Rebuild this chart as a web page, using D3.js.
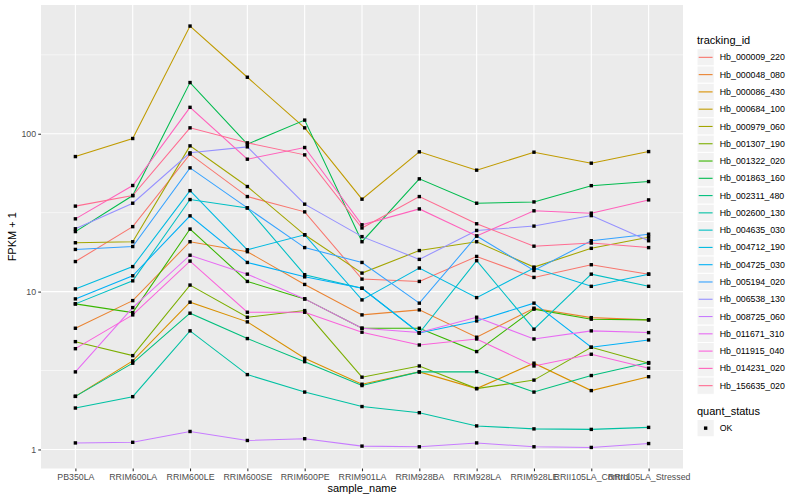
<!DOCTYPE html>
<meta charset="utf-8">
<head>
<script src="https://d3js.org/d3.v7.min.js"></script>
<style>
body { margin: 0; background: #fff; }
text { font-family: "Liberation Sans", Arial, Helvetica, sans-serif; }
</style>
</head>
<body>
<svg id="chart" width="800" height="500"></svg>
<script>
// categories
var samples = ["PB350LA", "RRIM600LA", "RRIM600LE", "RRIM600SE", "RRIM600PE", "RRIM901LA",
               "RRIM928BA", "RRIM928LA", "RRIM928LE", "RRII105LA_Control", "RRII105LA_Stressed"];

var trackingIds = ["Hb_000009_220", "Hb_000048_080", "Hb_000086_430", "Hb_000684_100", "Hb_000979_060",
                   "Hb_001307_190", "Hb_001322_020", "Hb_001863_160", "Hb_002311_480", "Hb_002600_130",
                   "Hb_004635_030", "Hb_004712_190", "Hb_004725_030", "Hb_005194_020", "Hb_006538_130",
                   "Hb_008725_060", "Hb_011671_310", "Hb_011915_040", "Hb_014231_020", "Hb_156635_020"];

// FPKM + 1, one array per gene, in sample order
var hb_000009_220 = [15.5, 25.8, 74.3, 40.0, 32.0, 12.0, 11.6, 16.7, 12.3, 14.8, 12.9];
var hb_000048_080 = [5.86, 8.77, 20.7, 17.9, 11.1, 7.12, 7.66, 5.14, 7.85, 6.84, 6.62];
var hb_000086_430 = [2.17, 3.64, 8.57, 6.43, 3.78, 2.59, 3.10, 2.43, 3.52, 2.36, 2.89];
var hb_000684_100 = [71.7, 93.3, 481, 228, 109, 38.5, 76.8, 58.8, 76.4, 65.1, 77.1];
var hb_000979_060 = [20.4, 20.7, 83.8, 46.3, 22.9, 13.1, 18.2, 20.7, 14.3, 18.8, 22.1];
var hb_001307_190 = [4.82, 3.93, 11.0, 6.88, 7.58, 2.87, 3.38, 2.43, 2.75, 4.44, 3.52];
var hb_001322_020 = [8.36, 7.36, 24.9, 11.6, 8.99, 5.86, 5.86, 4.17, 7.74, 6.69, 6.62];
var hb_001863_160 = [24.0, 40.6, 211, 85.9, 122, 20.7, 51.8, 36.3, 37.0, 46.9, 49.8];
var hb_002311_480 = [2.17, 3.52, 7.30, 5.04, 3.60, 2.54, 3.10, 3.11, 2.31, 2.94, 3.55];
var hb_002600_130 = [1.83, 2.16, 5.64, 2.98, 2.31, 1.87, 1.71, 1.41, 1.35, 1.34, 1.38];
var hb_004635_030 = [8.36, 11.7, 38.3, 33.9, 12.8, 10.5, 5.47, 15.7, 5.78, 12.9, 10.8];
var hb_004712_190 = [10.4, 14.4, 43.6, 18.4, 22.9, 8.86, 14.1, 9.16, 14.1, 10.8, 12.9];
var hb_004725_030 = [8.99, 12.6, 30.2, 15.3, 12.4, 10.5, 5.47, 6.52, 8.45, 4.44, 4.94];
var hb_005194_020 = [18.5, 19.3, 60.8, 33.9, 19.0, 15.3, 8.45, 22.5, 13.6, 21.0, 23.1];
var hb_006538_130 = [25.0, 36.3, 75.7, 82.6, 35.8, 22.3, 16.0, 24.4, 26.0, 30.3, 21.0];
var hb_008725_060 = [1.10, 1.11, 1.30, 1.14, 1.17, 1.05, 1.04, 1.10, 1.04, 1.03, 1.09];
var hb_011671_310 = [3.10, 7.92, 17.0, 12.9, 8.99, 5.86, 5.50, 6.88, 5.01, 5.64, 5.50];
var hb_011915_040 = [4.35, 7.12, 15.6, 7.40, 7.40, 5.53, 4.59, 5.01, 3.38, 4.01, 3.27];
var hb_014231_020 = [28.9, 47.0, 147, 69.0, 81.8, 26.5, 33.4, 22.5, 32.5, 31.4, 38.1];
var hb_156635_020 = [34.8, 40.6, 109, 87.6, 73.5, 25.3, 40.0, 26.9, 19.4, 20.3, 19.0];

var series = [hb_000009_220, hb_000048_080, hb_000086_430, hb_000684_100, hb_000979_060,
              hb_001307_190, hb_001322_020, hb_001863_160, hb_002311_480, hb_002600_130,
              hb_004635_030, hb_004712_190, hb_004725_030, hb_005194_020, hb_006538_130,
              hb_008725_060, hb_011671_310, hb_011915_040, hb_014231_020, hb_156635_020];

// ggplot default hue palette for 20 groups
var colors = ["#F8766D", "#EA8331", "#D89000", "#C09B00", "#A3A500", "#7CAE00", "#39B600", "#00BB4E",
              "#00BF7D", "#00C1A3", "#00BFC4", "#00BAE0", "#00B0F6", "#35A2FF", "#9590FF", "#C77CFF",
              "#E76BF3", "#FA62DB", "#FF62BC", "#FF6C91"];

var yBreaks = [1, 10, 100];
var yMinor = [Math.sqrt(10), Math.sqrt(1000), Math.sqrt(100000)];

var panel = {left: 41, right: 683, top: 5, bottom: 468.5};
var svg = d3.select("#chart");

var x = d3.scalePoint().domain(samples).range([panel.left, panel.right]).padding(0.6);

var all = d3.merge(series);
var lo = Math.log10(d3.min(all)), hi = Math.log10(d3.max(all)), pad = (hi - lo) * 0.05;
var y = d3.scaleLog()
    .domain([Math.pow(10, lo - pad), Math.pow(10, hi + pad)])
    .range([panel.bottom, panel.top]);

// panel + grid
svg.append("rect")
    .attr("x", panel.left).attr("y", panel.top)
    .attr("width", panel.right - panel.left).attr("height", panel.bottom - panel.top)
    .attr("fill", "#EBEBEB");

svg.append("g").selectAll("line").data(yMinor).join("line")
    .attr("x1", panel.left).attr("x2", panel.right)
    .attr("y1", d => y(d)).attr("y2", d => y(d))
    .attr("stroke", "#fff").attr("stroke-width", 0.55);

svg.append("g").selectAll("line").data(yBreaks).join("line")
    .attr("x1", panel.left).attr("x2", panel.right)
    .attr("y1", d => y(d)).attr("y2", d => y(d))
    .attr("stroke", "#fff").attr("stroke-width", 1.1);

svg.append("g").selectAll("line").data(samples).join("line")
    .attr("x1", d => x(d)).attr("x2", d => x(d))
    .attr("y1", panel.top).attr("y2", panel.bottom)
    .attr("stroke", "#fff").attr("stroke-width", 1.1);

// lines
var line = d3.line()
    .x((d, i) => x(samples[i]))
    .y(d => y(d));

svg.append("g").selectAll("path").data(series).join("path")
    .attr("d", line)
    .attr("fill", "none")
    .attr("stroke", (d, i) => colors[i])
    .attr("stroke-width", 1.05);

// points
var pts = [];
series.forEach(function(s) {
  s.forEach(function(v, i) { pts.push({s: samples[i], v: v}); });
});
svg.append("g").selectAll("rect").data(pts).join("rect")
    .attr("x", d => x(d.s) - 1.7).attr("y", d => y(d.v) - 1.7)
    .attr("width", 3.4).attr("height", 3.4)
    .attr("fill", "#000");

// axes
function styleAxis(g) {
  g.select(".domain").remove();
  g.selectAll(".tick line").attr("stroke", "#333").attr("stroke-width", 1.07);
  g.selectAll(".tick text").attr("fill", "#4D4D4D").style("font-size", "8.8px");
}

svg.append("g")
    .attr("transform", "translate(" + panel.left + ",0)")
    .call(d3.axisLeft(y).tickValues(yBreaks).tickFormat(d3.format("d")).tickSize(2.75).tickPadding(2.2))
    .call(styleAxis);

svg.append("g")
    .attr("transform", "translate(0," + panel.bottom + ")")
    .call(d3.axisBottom(x).tickSize(2.75).tickPadding(2.2))
    .call(styleAxis);

svg.append("text")
    .attr("x", (panel.left + panel.right) / 2).attr("y", 492)
    .attr("text-anchor", "middle").style("font-size", "11px").attr("fill", "#000")
    .text("sample_name");

svg.append("text")
    .attr("transform", "translate(16," + ((panel.top + panel.bottom) / 2) + ") rotate(-90)")
    .attr("text-anchor", "middle").style("font-size", "11px").attr("fill", "#000")
    .text("FPKM + 1");

// legend: tracking_id
var keyH = 17.28, legX = 697, legY = 48.7;
svg.append("text").attr("x", legX).attr("y", 44).style("font-size", "11px").text("tracking_id");

var leg = svg.append("g").selectAll("g").data(trackingIds).join("g")
    .attr("transform", (d, i) => "translate(" + legX + "," + (legY + i * keyH) + ")");
leg.append("rect").attr("width", keyH).attr("height", keyH)
    .attr("fill", "#F2F2F2").attr("stroke", "#fff").attr("stroke-width", 1);
leg.append("line").attr("x1", 1.7).attr("x2", keyH - 1.7)
    .attr("y1", keyH / 2).attr("y2", keyH / 2)
    .attr("stroke", (d, i) => colors[i]).attr("stroke-width", 1.1);
leg.append("text").attr("x", keyH + 5.5).attr("y", keyH / 2).attr("dy", "0.35em")
    .style("font-size", "8.8px").text(d => d);

// legend: quant_status
var qY = 419.5;
svg.append("text").attr("x", legX).attr("y", 415).style("font-size", "11px").text("quant_status");
var q = svg.append("g").attr("transform", "translate(" + legX + "," + qY + ")");
q.append("rect").attr("width", keyH).attr("height", keyH)
    .attr("fill", "#F2F2F2").attr("stroke", "#fff").attr("stroke-width", 1);
q.append("rect").attr("x", keyH / 2 - 1.7).attr("y", keyH / 2 - 1.7)
    .attr("width", 3.4).attr("height", 3.4).attr("fill", "#000");
q.append("text").attr("x", keyH + 5.5).attr("y", keyH / 2).attr("dy", "0.35em")
    .style("font-size", "8.8px").text("OK");
</script>
</body>
